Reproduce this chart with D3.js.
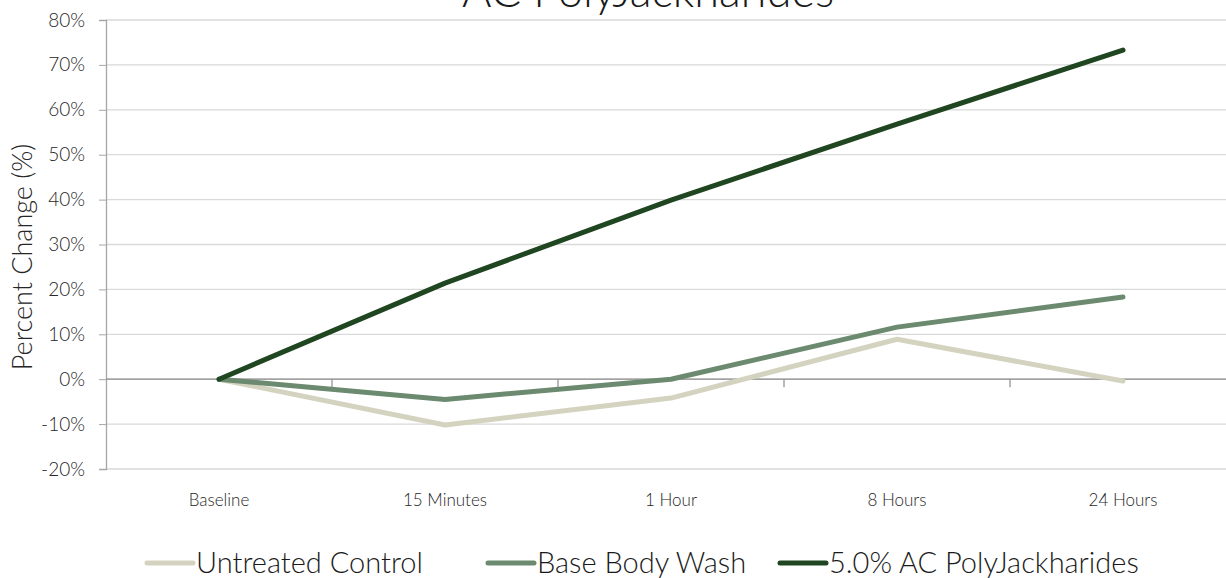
<!DOCTYPE html>
<html>
<head>
<meta charset="utf-8">
<script src="https://cdnjs.cloudflare.com/ajax/libs/d3/7.8.5/d3.min.js"></script>
<style>
  body { margin: 0; background: #fff; overflow: hidden; }
  text { font-family: Lato, "Open Sans", sans-serif; fill: #404040; font-weight: 300; }
</style>
</head>
<body>
<div class="chart"></div>
<script>
// Chart data
const categories = ["Baseline", "15 Minutes", "1 Hour", "8 Hours", "24 Hours"];
const seriesNames = ["Untreated Control", "Base Body Wash", "5.0% AC PolyJackharides"];
const untreated = [0, -10.2, -4.2, 8.9, -0.4];
const baseWash = [0, -4.5, 0, 11.6, 18.3];
const polyJack = [0, 21.4, 39.9, 56.8, 73.3];
const yTicks = [-20, -10, 0, 10, 20, 30, 40, 50, 60, 70, 80];
const colors = ["#d3d3c0", "#6b8a6f", "#1f4620"];

const seriesValues = [untreated, baseWash, polyJack];

const width = 1226, height = 578;
const margin = { top: 20, left: 106, bottom: 109 };

const svg = d3.select(".chart")
    .append("svg")
    .attr("width", width)
    .attr("height", height);

const xScale = d3.scaleBand()
    .domain(categories)
    .range([margin.left, margin.left + 226 * categories.length]);

const yScale = d3.scaleLinear()
    .domain([-20, 80])
    .range([height - margin.bottom, margin.top]);

// Gridlines
svg.append("g")
    .selectAll("line")
    .data(yTicks)
    .enter()
    .append("line")
    .attr("x1", margin.left)
    .attr("x2", width)
    .attr("y1", (d) => yScale(d))
    .attr("y2", (d) => yScale(d))
    .attr("stroke", "#d9d9d9")
    .attr("stroke-width", 1.3);

// y axis
const yAxis = d3.axisLeft(yScale)
    .tickValues(yTicks)
    .tickFormat((d) => d + "%")
    .tickSize(7)
    .tickPadding(14);

const yG = svg.append("g")
    .attr("transform", `translate(${margin.left},0)`)
    .call(yAxis);
yG.select(".domain").attr("stroke", "#a6a6a6").attr("stroke-width", 1.3);
yG.selectAll(".tick line").attr("stroke", "#a6a6a6");
yG.selectAll(".tick text")
    .style("font-size", "19px")
    .style("font-family", "Lato, sans-serif")
    .style("font-weight", 300)
    .style("fill", "#262626");

// x axis crossing at 0%
const boundaries = categories.slice(1).map((c) => xScale(c));
svg.append("line")
    .attr("x1", margin.left)
    .attr("x2", width)
    .attr("y1", yScale(0))
    .attr("y2", yScale(0))
    .attr("stroke", "#8c8c8c")
    .attr("stroke-width", 1.2);
svg.append("g")
    .selectAll("line")
    .data(boundaries)
    .enter()
    .append("line")
    .attr("x1", (d) => d)
    .attr("x2", (d) => d)
    .attr("y1", yScale(0))
    .attr("y2", yScale(0) + 8)
    .attr("stroke", "#8c8c8c")
    .attr("stroke-width", 1.2);

// category labels
svg.append("g")
    .selectAll("text")
    .data(categories)
    .enter()
    .append("text")
    .attr("x", (d) => xScale(d) + xScale.bandwidth() / 2)
    .attr("y", 506)
    .attr("text-anchor", "middle")
    .style("font-size", "17px")
    .style("fill", "#262626")
    .text((d) => d);

// Lines
const line = d3.line()
    .x((d, i) => xScale(categories[i]) + xScale.bandwidth() / 2)
    .y((d) => yScale(d));

svg.append("g")
    .selectAll("path")
    .data(seriesValues)
    .enter()
    .append("path")
    .attr("d", (d) => line(d))
    .attr("fill", "none")
    .attr("stroke", (d, i) => colors[i])
    .attr("stroke-width", 5)
    .attr("stroke-linecap", "round")
    .attr("stroke-linejoin", "round");

// y axis title
svg.append("text")
    .attr("transform", `translate(32, 257) rotate(-90)`)
    .attr("text-anchor", "middle")
    .style("font-size", "27px")
    .style("fill", "#262626")
    .text("Percent Change (%)");

// chart title (clipped at top, as in the original)
svg.append("text")
    .attr("x", 648)
    .attr("y", 7)
    .attr("text-anchor", "middle")
    .style("font-size", "45px")
    .style("fill", "#1a1a1a")
    .text("AC PolyJackharides");

// Legend
const legendStarts = [147, 488, 780];
const legend = svg.append("g")
    .selectAll("g")
    .data(seriesNames)
    .enter()
    .append("g")
    .attr("transform", (d, i) => `translate(${legendStarts[i]}, 563)`);

legend.append("line")
    .attr("x1", 0)
    .attr("x2", 46)
    .attr("y1", 0)
    .attr("y2", 0)
    .attr("stroke", (d, i) => colors[i])
    .attr("stroke-width", 5)
    .attr("stroke-linecap", "round");

legend.append("text")
    .attr("x", 49)
    .attr("y", 10)
    .style("font-size", "29px")
    .style("fill", "#1a1a1a")
    .text((d) => d);
</script>
</body>
</html>
